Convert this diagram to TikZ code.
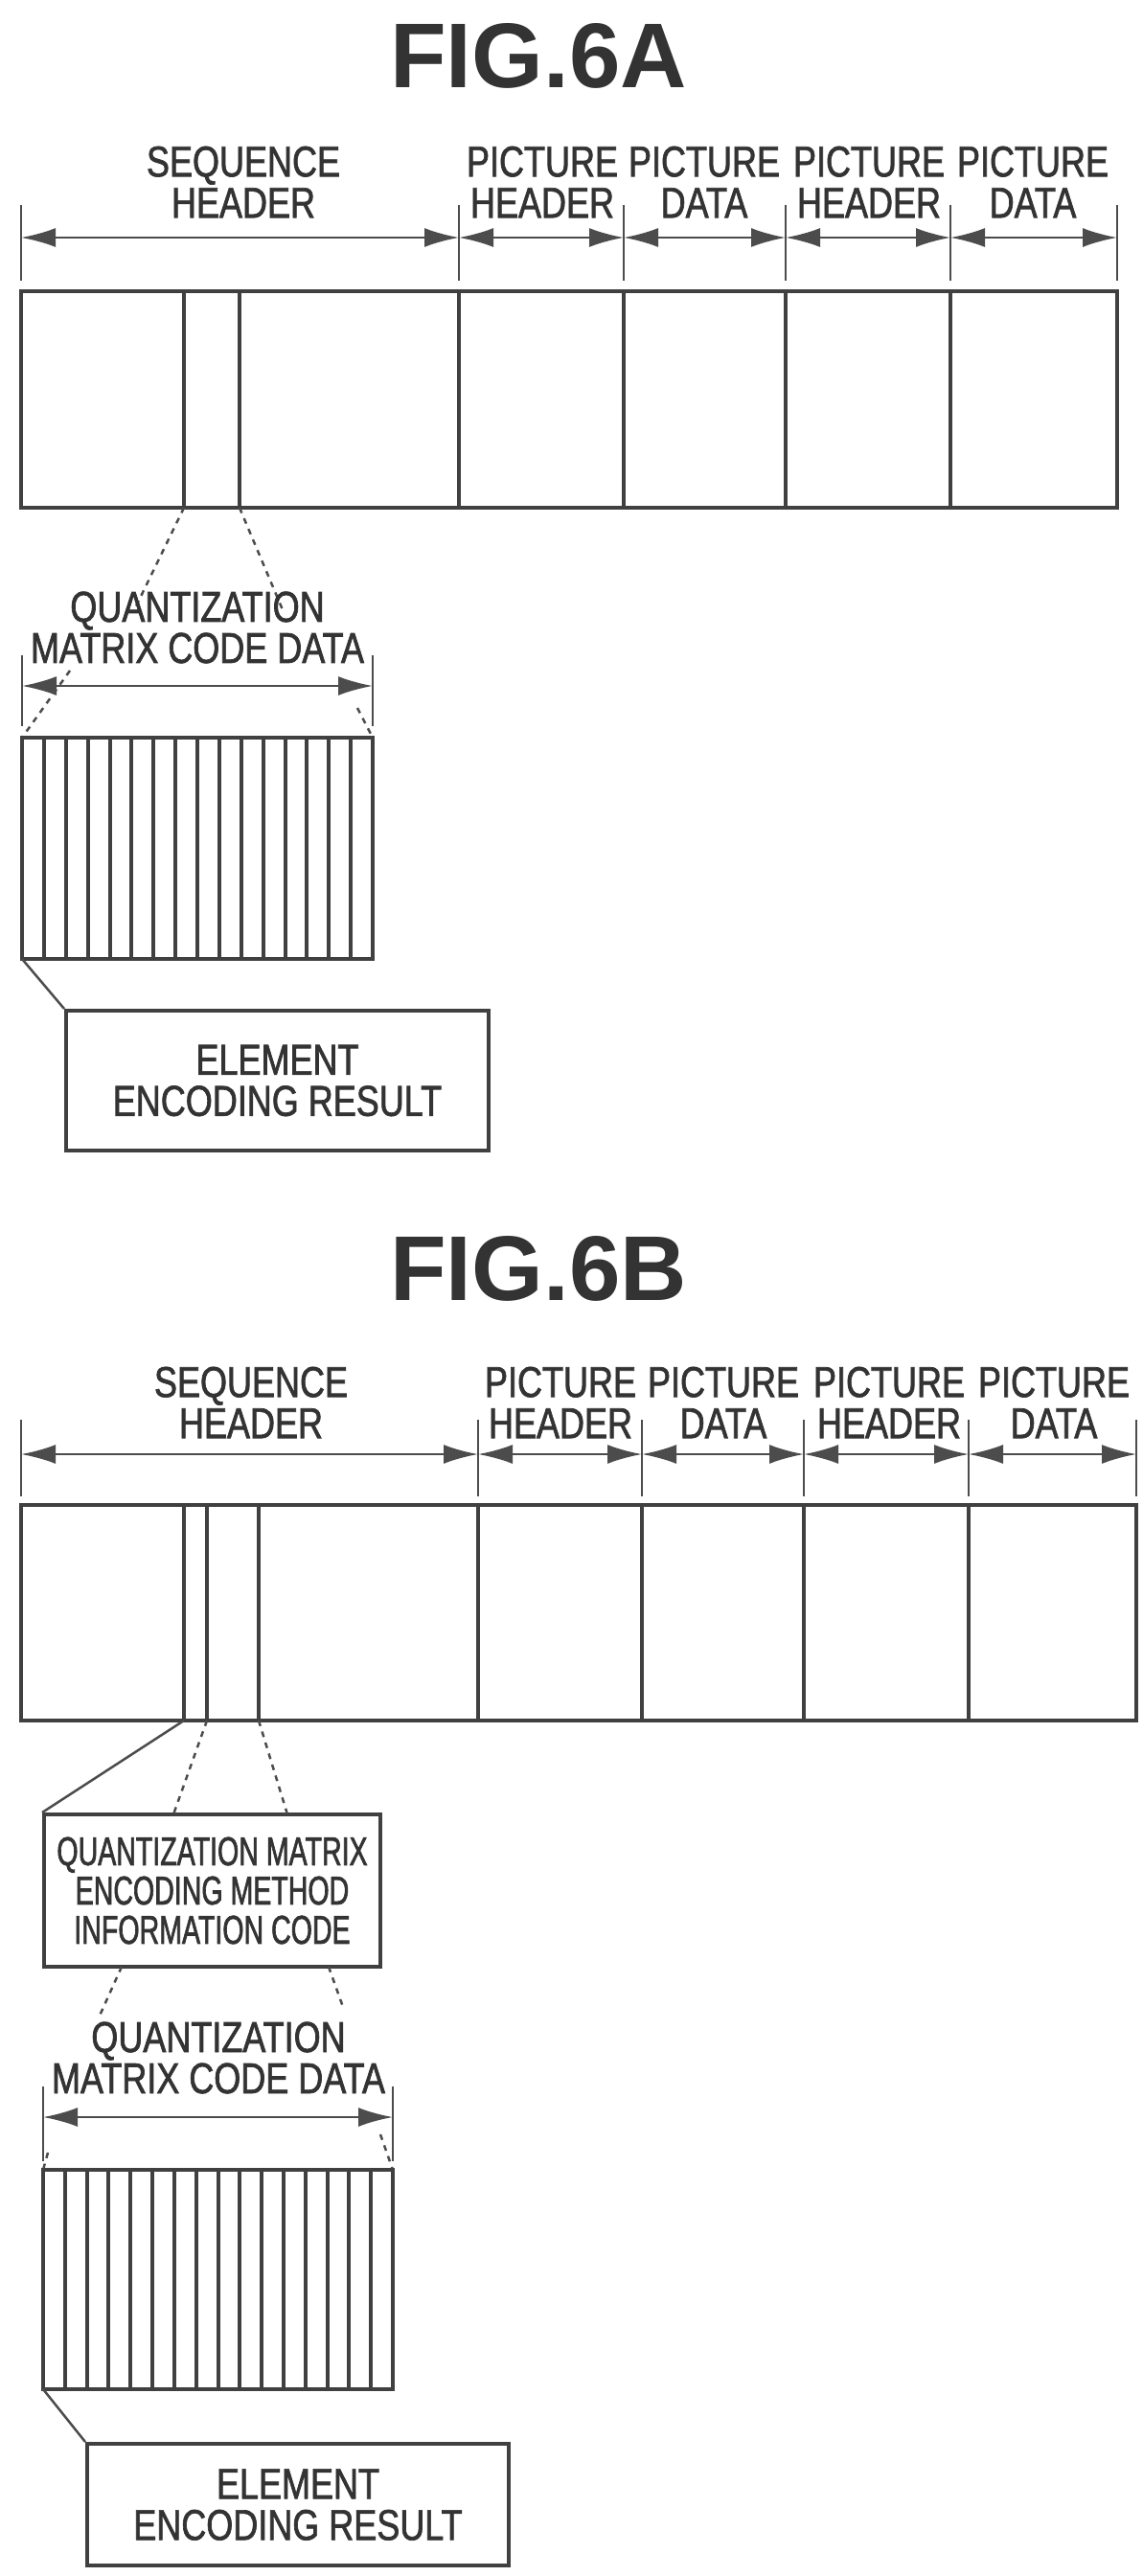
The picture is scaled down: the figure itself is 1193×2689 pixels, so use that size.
\documentclass[tikz,border=0pt]{standalone}
\usepackage{fontspec}
\setmainfont{Liberation Sans}
\newfontfamily\lblfont[FakeStretch=0.8,FakeBold=1.5]{Liberation Sans}
\newfontfamily\boxfont[FakeStretch=0.68,FakeBold=1.5]{Liberation Sans}
\usetikzlibrary{arrows.meta}
\tikzset{
  ln/.style={draw=black!75,line width=4pt},
  dim/.style={draw=black!70,line width=2.5pt,{Latex[length=36pt,width=20pt]}-{Latex[length=36pt,width=20pt]}},
  tick/.style={draw=black!70,line width=2.5pt},
  zoomln/.style={draw=black!70,line width=2.5pt,dashed,dash pattern=on 6pt off 6pt},
  lbl/.style={font=\lblfont\fontsize{45}{43}\selectfont,text=black!80,align=center,inner sep=0pt},
  infolbl/.style={font=\boxfont\fontsize{42}{41}\selectfont,text=black!80,align=center,inner sep=0pt},
  title/.style={font=\bfseries\fontsize{96}{96}\selectfont,text=black!80,inner sep=0pt}
}
\begin{document}
\begin{tikzpicture}[x=1pt,y=-1pt]
    \useasboundingbox (0,0) rectangle (1193,2689);
    % FIG.6A
    \node[title] (tA) at (562,58) {FIG.6A};
    \node[lbl] (seqA) at (254,190) {SEQUENCE\\HEADER};
    \node[lbl] (phA1) at (566,190) {PICTURE\\HEADER};
    \node[lbl] (pdA1) at (735,190) {PICTURE\\DATA};
    \node[lbl] (phA2) at (907,190) {PICTURE\\HEADER};
    \node[lbl] (pdA2) at (1078,190) {PICTURE\\DATA};
    \foreach \x in {22,479,651,820,992,1166} \draw[tick] (\x,214) -- (\x,293);
    \draw[dim] (22,248) -- (479,248);
    \draw[dim] (479,248) -- (651,248);
    \draw[dim] (651,248) -- (820,248);
    \draw[dim] (820,248) -- (992,248);
    \draw[dim] (992,248) -- (1166,248);
    \draw[ln] (22,304) rectangle (1166,530);
    \foreach \x in {192,250,479,651,820,992} \draw[ln] (\x,304) -- (\x,530);
    \coordinate (qa1) at (192,530);
    \coordinate (qa2) at (250,530);
    \draw[zoomln] (qa1) -- (139,639);
    \draw[zoomln] (qa2) -- (296,639);
    \node[lbl] (qmA) at (206,655) {QUANTIZATION\\MATRIX CODE DATA};
    \draw[tick] (23,684) -- (23,758);
    \draw[tick] (389,684) -- (389,758);
    \draw[dim] (23,716) -- (389,716);
    \draw[zoomln] (73,700) -- (23,770);
    \draw[zoomln] (373,739) -- (389,770);
    \foreach \i in {1,...,15} \draw[ln] ({23+\i*366/16},770) -- ({23+\i*366/16},1001);
    \draw[ln] (23,770) rectangle (389,1001);
    \coordinate (sA) at (23,1001);
    \node[lbl,draw=black!75,line width=4pt,minimum width=441pt,minimum height=146pt] (elA) at (289.5,1128) {ELEMENT\\ENCODING RESULT};
    \draw[tick] (sA) -- (elA.north west);
    % FIG.6B
    \node[title] (tB) at (562,1324) {FIG.6B};
    \node[lbl] (seqB) at (262,1464) {SEQUENCE\\HEADER};
    \node[lbl] (phB1) at (585,1464) {PICTURE\\HEADER};
    \node[lbl] (pdB1) at (755,1464) {PICTURE\\DATA};
    \node[lbl] (phB2) at (928,1464) {PICTURE\\HEADER};
    \node[lbl] (pdB2) at (1100,1464) {PICTURE\\DATA};
    \foreach \x in {22,499,670,839,1011,1186} \draw[tick] (\x,1482) -- (\x,1562);
    \draw[dim] (22,1518) -- (499,1518);
    \draw[dim] (499,1518) -- (670,1518);
    \draw[dim] (670,1518) -- (839,1518);
    \draw[dim] (839,1518) -- (1011,1518);
    \draw[dim] (1011,1518) -- (1186,1518);
    \draw[ln] (22,1571) rectangle (1186,1796);
    \foreach \x in {192,216,270,499,670,839,1011} \draw[ln] (\x,1571) -- (\x,1796);
    \node[infolbl,draw=black!75,line width=4pt,minimum width=351pt,minimum height=159pt] (infB) at (221.5,1973.5) {QUANTIZATION MATRIX\\ENCODING METHOD\\INFORMATION CODE};
    \draw[tick] (192,1796) -- (infB.north west);
    \draw[zoomln] (216,1796) -- (181,1894);
    \draw[zoomln] (270,1796) -- (300,1894);
    \draw[zoomln] (127,2053) -- (104,2104);
    \draw[zoomln] (343,2053) -- (358,2095);
    \node[lbl] (qmB) at (228,2148) {QUANTIZATION\\MATRIX CODE DATA};
    \draw[tick] (45,2178) -- (45,2256);
    \draw[tick] (410,2178) -- (410,2256);
    \draw[dim] (45,2210) -- (410,2210);
    \draw[zoomln] (50,2247) -- (45,2265);
    \draw[zoomln] (397,2228) -- (410,2265);
    \foreach \i in {1,...,15} \draw[ln] ({45+\i*365/16},2265) -- ({45+\i*365/16},2494);
    \draw[ln] (45,2265) rectangle (410,2494);
    \coordinate (sB) at (45,2494);
    \node[lbl,draw=black!75,line width=4pt,minimum width=440pt,minimum height=127pt] (elB) at (311,2614.5) {ELEMENT\\ENCODING RESULT};
    \draw[tick] (sB) -- (elB.north west);
\end{tikzpicture}
\end{document}
